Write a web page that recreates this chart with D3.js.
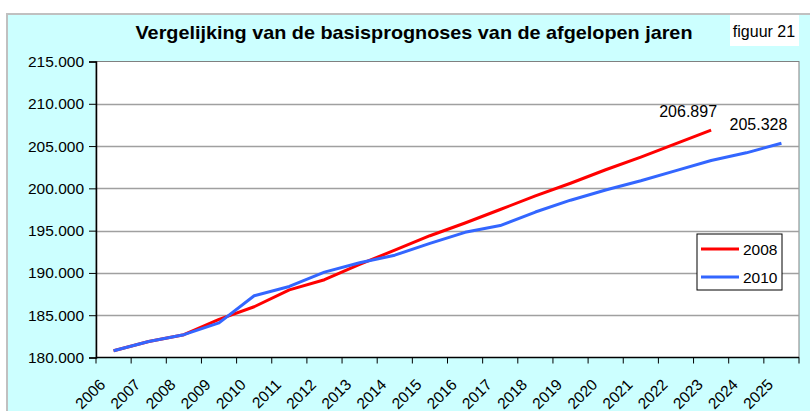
<!DOCTYPE html>
<html><head><meta charset="utf-8">
<script src="https://cdn.jsdelivr.net/npm/d3@7"></script>
<style>body{margin:0;background:#fff;}svg{display:block;font-family:Arial,"Liberation Sans",sans-serif;}</style>
</head><body>
<svg id="c" width="810" height="411"></svg>
<script>
const years = ["2006","2007","2008","2009","2010","2011","2012","2013","2014","2015","2016","2017","2018","2019","2020","2021","2022","2023","2024","2025"];
const prog2008 = [180800,181900,182700,184500,186000,188000,189200,191000,192700,194400,195900,197500,199100,200600,202200,203700,205300,206897];
const prog2010 = [180800,181900,182700,184100,187300,188400,190100,191200,192100,193500,194800,195600,197200,198600,199800,200900,202100,203300,204200,205328];
const yTicks = [180000,185000,190000,195000,200000,205000,210000,215000];
const seriesNames = ["2008","2010"];
const colors = ["#ff0000","#3366ff"];
const title = "Vergelijking van de basisprognoses van de afgelopen jaren";

const svg = d3.select("#c");
const fmt = v => d3.format(",")(v).replace(/,/g,".");
const FS = 15.5;

// chart area
svg.append("rect").attr("x",7).attr("y",14).attr("width",810).attr("height",420)
  .attr("fill","#ccffff").attr("stroke","#c0c0c0").attr("stroke-width",2);

const L=96,R=799,T=61.5,B=357.5;
const x = d3.scaleBand().domain(years).range([L,R]);
const y = d3.scaleLinear().domain([180000,215000]).range([B,T]);

svg.append("rect").attr("x",L).attr("y",T).attr("width",R-L).attr("height",B-T)
  .attr("fill","#fff").attr("stroke","#808080").attr("stroke-width",1);

// gridlines
svg.append("g").selectAll("line").data(yTicks.slice(1,-1)).join("line")
  .attr("x1",L).attr("x2",R).attr("y1",d=>Math.round(y(d))+0.5).attr("y2",d=>Math.round(y(d))+0.5)
  .attr("stroke","#a0a0a0").attr("stroke-width",1.5);

// y axis
const ya = svg.append("g").attr("transform",`translate(${L},0)`)
  .call(d3.axisLeft(y).tickValues(yTicks).tickFormat(fmt).tickSize(7).tickPadding(5));
ya.select(".domain").attr("stroke","#000").attr("stroke-width",1.5);
ya.selectAll(".tick line").attr("stroke","#000");
ya.selectAll(".tick text").attr("font-size",FS).attr("font-family","Arial,'Liberation Sans',sans-serif").attr("fill","#000");

// x axis
const xa = svg.append("g").attr("transform",`translate(0,${B})`);
xa.append("line").attr("x1",L).attr("x2",R).attr("stroke","#000").attr("stroke-width",1.5);
const bounds = years.map((d,i)=>x(d)).concat([R]);
xa.selectAll(".tk").data(bounds).join("line").attr("class","tk")
  .attr("x1",d=>d).attr("x2",d=>d).attr("y1",0).attr("y2",6).attr("stroke","#000");
xa.selectAll(".lbl").data(years).join("text").attr("class","lbl")
  .attr("transform",d=>`translate(${x(d)+x.bandwidth()/2-15},${20.5}) rotate(-45)`)
  .attr("text-anchor","end").attr("dy","0.7em").attr("font-size",FS).attr("fill","#000")
  .text(d=>d);

// lines
const line = d3.line().x((d,i)=>x(years[i])+x.bandwidth()/2).y(d=>y(d));
[prog2008,prog2010].forEach((s,k)=>{
  svg.append("path").datum(s).attr("d",line).attr("fill","none")
    .attr("stroke",colors[k]).attr("stroke-width",3).attr("stroke-linejoin","round");
  const i=s.length-1;
  svg.append("text").attr("x",x(years[i])+x.bandwidth()/2-23).attr("y",y(s[i])-13)
    .attr("text-anchor","middle").attr("font-size",16).attr("fill","#000").text(fmt(s[i]));
});

// legend
const lg = svg.append("g");
lg.append("rect").attr("x",697).attr("y",234).attr("width",85).attr("height",56)
  .attr("fill","#fff").attr("stroke","#000").attr("stroke-width",1);
seriesNames.forEach((n,k)=>{
  const yy = 249 + k*28;
  lg.append("line").attr("x1",701).attr("x2",739).attr("y1",yy).attr("y2",yy)
    .attr("stroke",colors[k]).attr("stroke-width",3);
  lg.append("text").attr("x",743).attr("y",yy+5.5).attr("font-size",FS).attr("fill","#000").text(n);
});

// title
svg.append("text").attr("x",414).attr("y",39).attr("text-anchor","middle")
  .attr("font-size",19).attr("font-weight","bold").attr("fill","#000")
  .attr("textLength",557).attr("lengthAdjust","spacingAndGlyphs").text(title);

// figuur box
svg.append("rect").attr("x",730).attr("y",15).attr("width",69).attr("height",31).attr("fill","#fff");
svg.append("text").attr("x",764).attr("y",37).attr("text-anchor","middle").attr("font-size",16)
  .attr("fill","#000").text("figuur 21");
</script>
</body></html>
